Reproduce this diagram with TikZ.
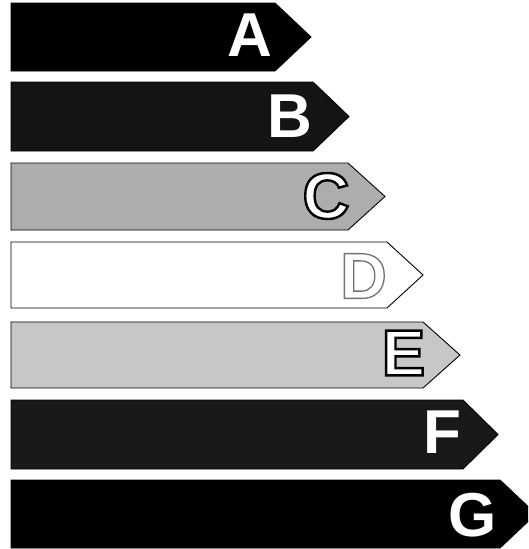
\documentclass[tikz,border=0pt]{standalone}
\usepackage{fontspec}
\setmainfont{Liberation Sans}
\definecolor{fillB}{gray}{0.08}
\definecolor{fillC}{gray}{0.68}
\definecolor{fillE}{gray}{0.78}
\definecolor{fillF}{gray}{0.10}
\newcommand\ratingband[5]{%
  \filldraw[band,fill=#5] (11,#1) -- (#3,#1) -- (#4,{(#1+#2)/2}) -- (#3,#2) -- (11,#2) -- cycle;}
% outlined glyph: text rendering mode 2 (fill + stroke)
\newcommand\outlinedletter[3]{\special{pdf:code q 2 Tr #2 w #3 RG}#1\special{pdf:code Q}}
\begin{document}
\begin{tikzpicture}[x=1pt,y=-1pt,
  band/.style={draw=black,line width=0.9pt,line join=miter},
  lettfill/.style={font=\fontsize{62}{62}\selectfont\bfseries,inner sep=0pt,text=white},
  lettline/.style={font=\fontsize{65}{65}\selectfont\bfseries,inner sep=0pt,text=white}]
\useasboundingbox (0,0) rectangle (528,549);
\clip (0,0) rectangle (528,549);
\ratingband{3}{71}{275}{311}{black}
\ratingband{82}{151}{313}{349}{fillB}
\ratingband{163}{230}{348}{385}{fillC}
\ratingband{242}{308}{387}{423}{white}
\ratingband{322}{388}{423}{460}{fillE}
\ratingband{400}{469}{463}{498}{fillF}
\ratingband{480}{548}{500}{536}{black}
\node[lettfill] (lA) at (249.5,35) {A};
\node[lettfill] (lB) at (289.5,116) {B};
\node[lettline] (lC) at (326,196) {\outlinedletter{C}{2.4}{0 0 0}};
\node[lettline] (lD) at (363.5,276) {\outlinedletter{D}{1.3}{0.45 0.45 0.45}};
\node[lettline] (lE) at (403.5,353) {\outlinedletter{E}{2.4}{0 0 0}};
\node[lettfill] (lF) at (442,432.5) {F};
\node[lettfill] (lG) at (473,515) {G};
\end{tikzpicture}
\end{document}
